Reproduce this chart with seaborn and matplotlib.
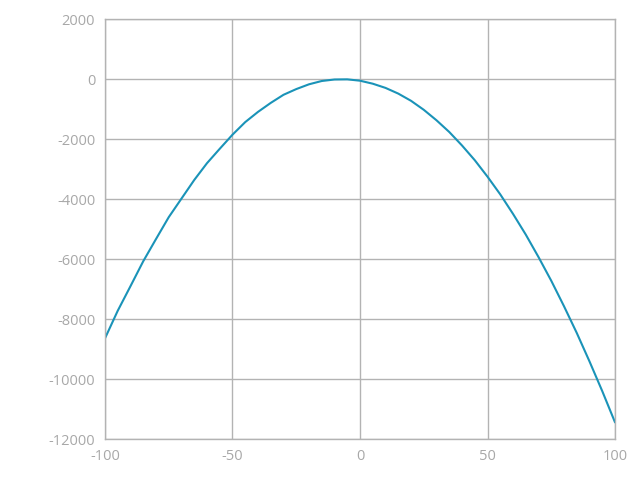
import numpy as np
import pandas as pd
import matplotlib.pyplot as plt
import seaborn as sns

# values
x_vals = [-100, -95, -90, -85, -80, -75, -70, -65, -60, -55, -50, -45, -40, -35, -30,
          -25, -20, -15, -10, -5, 0, 5, 10, 15, 20, 25, 30, 35, 40, 45, 50, 55, 60,
          65, 70, 75, 80, 85, 90, 95, 100]
y_vals = [-8640, -7720, -6900, -6070, -5330, -4600, -3980, -3360, -2800, -2320, -1850,
          -1430, -1090, -790, -520, -330, -170, -60, -10, -5, -50, -150, -290, -480,
          -720, -1020, -1370, -1760, -2210, -2700, -3250, -3840, -4490, -5180, -5930,
          -6720, -7570, -8460, -9410, -10400, -11440]
x_ticks = [-100, -50, 0, 50, 100]
y_ticks = [2000, 0, -2000, -4000, -6000, -8000, -10000, -12000]

df = pd.DataFrame({'x': x_vals, 'y': y_vals})

sns.set_style("whitegrid")
plt.rcParams['font.family'] = ['Open Sans', 'DejaVu Sans']
plt.rcParams['axes.unicode_minus'] = False

fig = plt.figure(figsize=(6.4, 4.8), dpi=100)
ax = fig.add_axes([0.164, 0.085, 0.797, 0.875])
sns.lineplot(data=df, x='x', y='y', ax=ax, color='#1a93b8', linewidth=1.5)

ax.set_xlim(-100, 100)
ax.set_ylim(-12000, 2000)
ax.set_xticks(x_ticks)
ax.set_yticks(y_ticks)
ax.set_xlabel('')
ax.set_ylabel('')
ax.grid(True, color='#b3b3b3', linewidth=1)
for s in ax.spines.values():
    s.set_color('#b3b3b3')
    s.set_linewidth(1)
ax.tick_params(length=0, labelsize=10.5, labelcolor='#a8a8a8', pad=7)

fig.savefig('out.png', dpi=100)
